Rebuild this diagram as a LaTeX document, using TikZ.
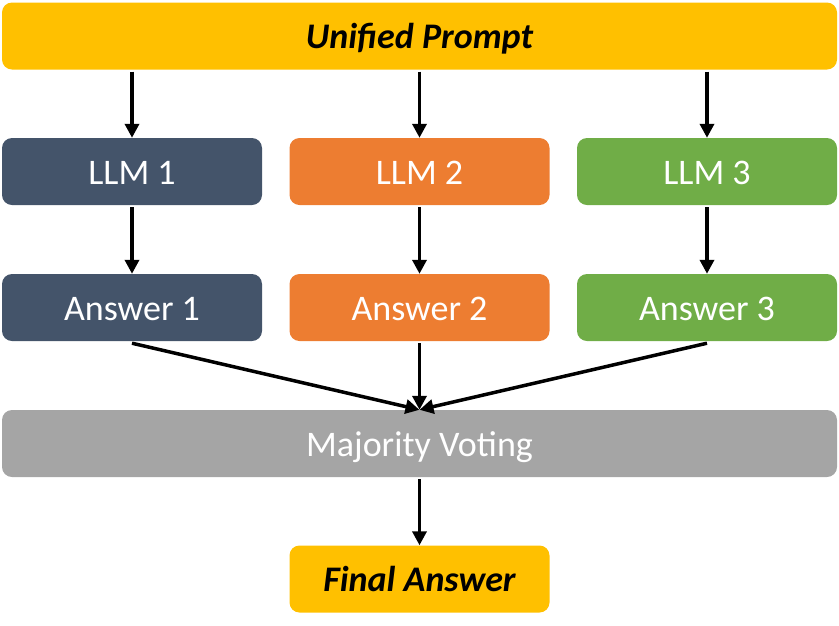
\documentclass[tikz,border=0pt]{standalone}
\usepackage{fontspec}
\setmainfont{Carlito}
\usetikzlibrary{arrows.meta}
\definecolor{gold}{HTML}{FFC000}
\definecolor{slate}{HTML}{44546A}
\definecolor{orng}{HTML}{ED7D31}
\definecolor{grn}{HTML}{70AD47}
\definecolor{gry}{HTML}{A5A5A5}

\begin{document}
\begin{tikzpicture}[
  x=1pt, y=-1pt,
  box/.style={rounded corners=10pt, minimum width=260pt, minimum height=67pt, align=center, inner sep=0pt, text height=25pt, text depth=0pt, text=white, font=\fontsize{36}{42}\selectfont},
  wide/.style={box, minimum width=835pt},
  line/.style={-{Triangle[length=14pt,width=14pt]}, line width=3.5pt}
]
\useasboundingbox (0,0) rectangle (839,625);
\node[wide, fill=gold, text=black, font=\fontsize{36}{42}\selectfont\bfseries\itshape] (prompt) at (419.5,36) {Unified Prompt};

\node[box, fill=slate] (llm1) at (132,171.5) {LLM 1};
\node[box, fill=orng]  (llm2) at (419.5,171.5) {LLM 2};
\node[box, fill=grn]   (llm3) at (707,171.5) {LLM 3};

\node[box, fill=slate] (ans1) at (132,307.5) {Answer 1};
\node[box, fill=orng]  (ans2) at (419.5,307.5) {Answer 2};
\node[box, fill=grn]   (ans3) at (707,307.5) {Answer 3};

\node[wide, fill=gry] (vote) at (419.5,443.5) {Majority Voting};
\node[box, fill=gold, text=black, font=\fontsize{36}{42}\selectfont\bfseries\itshape] (final) at (419.5,579) {Final Answer};

\draw[line] ([yshift=-2pt]prompt.south -| llm1) -- (llm1);
\draw[line] ([yshift=-2pt]prompt.south -| llm2) -- (llm2);
\draw[line] ([yshift=-2pt]prompt.south -| llm3) -- (llm3);

\draw[line] ([yshift=-2pt]llm1.south) -- (ans1);
\draw[line] ([yshift=-2pt]llm2.south) -- (ans2);
\draw[line] ([yshift=-2pt]llm3.south) -- (ans3);

\draw[line] ([yshift=-2pt]ans1.south) -- (vote.north);
\draw[line] ([yshift=-2pt]ans2.south) -- (vote.north);
\draw[line] ([yshift=-2pt]ans3.south) -- (vote.north);

\draw[line] ([yshift=-2pt]vote.south) -- (final);
\end{tikzpicture}
\end{document}
